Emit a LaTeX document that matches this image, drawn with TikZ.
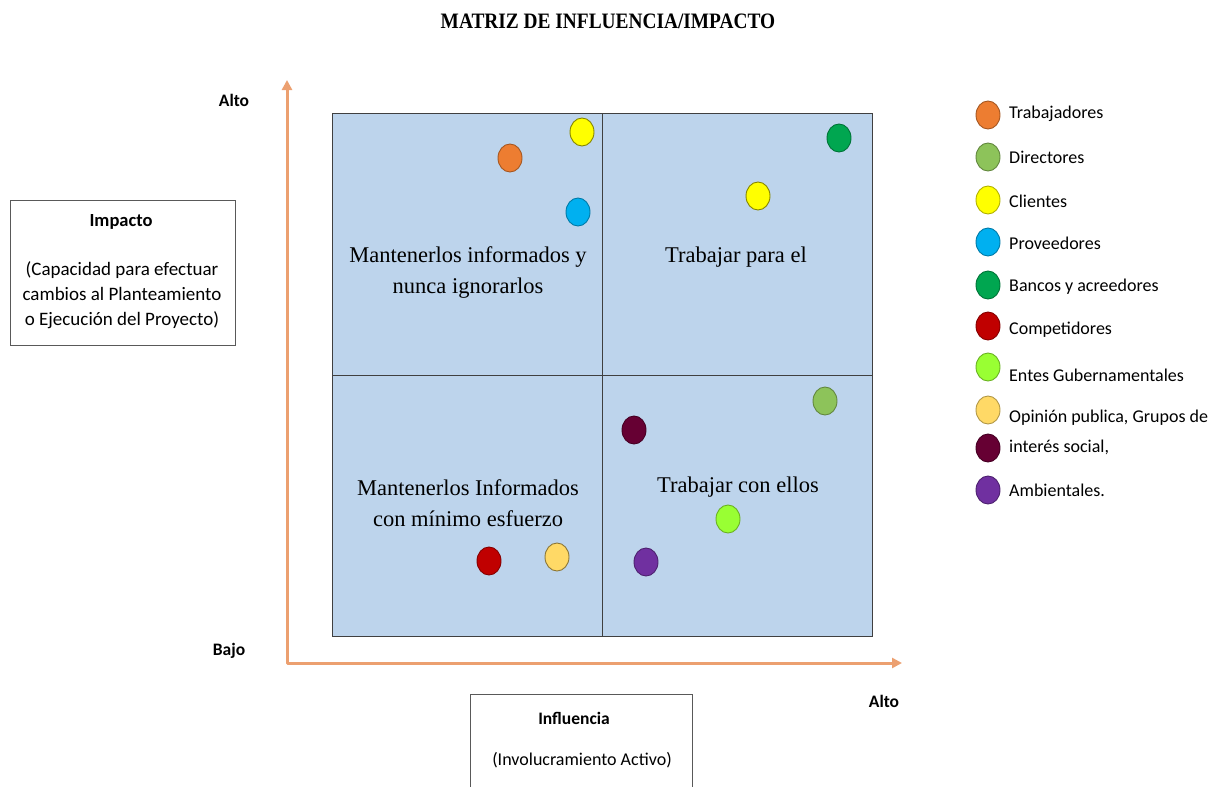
\documentclass[tikz,border=0pt]{standalone}
\usepackage{fontspec}
\setmainfont{Liberation Serif}
\newfontfamily\carlito{Carlito}
\usetikzlibrary{arrows.meta,shapes.geometric,positioning}

\definecolor{axisorange}{RGB}{236,160,112}
\definecolor{quadblue}{RGB}{189,212,236}
\definecolor{ctrab}{RGB}{237,125,49}
\definecolor{cdir}{RGB}{141,195,90}
\definecolor{ccli}{RGB}{255,255,0}
\definecolor{cprov}{RGB}{0,176,240}
\definecolor{cbanc}{RGB}{0,166,80}
\definecolor{ccomp}{RGB}{192,0,0}
\definecolor{centes}{RGB}{153,255,51}
\definecolor{copin}{RGB}{255,217,102}
\definecolor{csocial}{RGB}{102,0,51}
\definecolor{camb}{RGB}{112,48,160}

\tikzset{
    quad/.style={draw=black!75, fill=quadblue, line width=0.8pt,
        minimum width=270pt, minimum height=261.5pt, inner sep=0pt, anchor=north west},
    dot/.style={ellipse, minimum width=24pt, minimum height=28pt, inner sep=0pt,
        fill=#1, draw=#1!70!black, line width=0.9pt},
    qtext/.style={align=center, font=\fontsize{22.5}{31}\selectfont},
    sidetext/.style={font=\carlito\fontsize{18}{25}\selectfont},
    boldtext/.style={font=\carlito\bfseries\fontsize{17.5}{20}\selectfont},
    legtext/.style={font=\carlito\fontsize{18}{29}\selectfont, anchor=west, inner sep=0pt},
    axis/.style={draw=axisorange, line width=3pt, line join=round,
        {Triangle[length=10pt,width=10pt]}-{Triangle[length=10pt,width=10pt]}},
    labelbox/.style={draw=black!65, line width=1pt, anchor=north west, inner sep=0pt}
}

\begin{document}
\begin{tikzpicture}[x=1pt, y=-1pt]
    \useasboundingbox (0,0) rectangle (1218,787);

    \node[font=\bfseries\fontsize{22}{24}\selectfont] (title) at (608,21)
        {\scalebox{0.88}[1]{MATRIZ DE INFLUENCIA/IMPACTO}};

    % axes
    \coordinate (origin) at (287,663);
    \coordinate (ytip) at (287,80);
    \coordinate (xtip) at (902,663);
    \draw[axis] (ytip) -- (origin) -- (xtip);
    \node[boldtext] (altoy) at (234,100) {Alto};
    \node[boldtext] (bajo) at (229,651) {Bajo};
    \node[boldtext] (altox) at (884,701) {Alto};

    % quadrants
    \node[quad] (q1) at (332,113) {};
    \node[quad] (q2) at (602,113) {};
    \node[quad] (q3) at (332,374.5) {};
    \node[quad] (q4) at (602,374.5) {};
    \node[qtext] (t1) at (468,273) {Mantenerlos informados y\\nunca ignorarlos};
    \node[qtext] (t2) at (736,257) {Trabajar para el};
    \node[qtext] (t3) at (468,503) {Mantenerlos Informados\\con mínimo esfuerzo};
    \node[qtext] (t4) at (738,487) {Trabajar con ellos};

    % stakeholders in the matrix
    \node[dot=ccli, draw=black!45!ccli!60!olive] (m-cli1) at (582,132) {};
    \node[dot=ctrab] (m-trab) at (510,158) {};
    \node[dot=cprov] (m-prov) at (578,212) {};
    \node[dot=cbanc] (m-banc) at (839,138) {};
    \node[dot=ccli, draw=black!45!ccli!60!olive] (m-cli2) at (758,196) {};
    \node[dot=cdir] (m-dir) at (825,401) {};
    \node[dot=csocial] (m-social) at (634,430) {};
    \node[dot=centes] (m-entes) at (728,519) {};
    \node[dot=ccomp] (m-comp) at (489,561) {};
    \node[dot=copin, draw=copin!55!black] (m-opin) at (557,557) {};
    \node[dot=camb] (m-amb) at (646,562) {};

    % legend
    \foreach \col/\dy [count=\i] in {ctrab/115, cdir/157, ccli/200, cprov/242, cbanc/285,
        ccomp/326, centes/367, copin/410, csocial/448, camb/490}
        \node[dot=\col] (leg-dot-\i) at (988,\dy) {};
    \foreach \txt/\ty [count=\i] in {Trabajadores/114, Directores/157, Clientes/201,
        Proveedores/243, Bancos y acreedores/287, Competidores/330,
        Entes Gubernamentales/375, {Opinión publica, Grupos de}/418,
        {interés social,}/447, Ambientales./490}
        \node[legtext] (leg-\i) at (1009,\ty) {\txt};

    % axis captions
    \node[labelbox, minimum width=225pt, minimum height=145pt] (impbox) at (10,200) {};
    \node[boldtext, font=\carlito\bfseries\fontsize{18.5}{20}\selectfont] (imp) at (121,222) {Impacto};
    \node[sidetext, align=center, font=\carlito\fontsize{19}{25}\selectfont] (impdesc) at (122,295)
        {(Capacidad para efectuar\\cambios al Planteamiento\\o Ejecución del Proyecto)};
    \node[labelbox, minimum width=222pt, minimum height=110pt] (infbox) at (470,694) {};
    \node[boldtext] (inf) at (574,718) {Influencia};
    \node[sidetext] (infdesc) at (582,760) {(Involucramiento Activo)};
\end{tikzpicture}
\end{document}
